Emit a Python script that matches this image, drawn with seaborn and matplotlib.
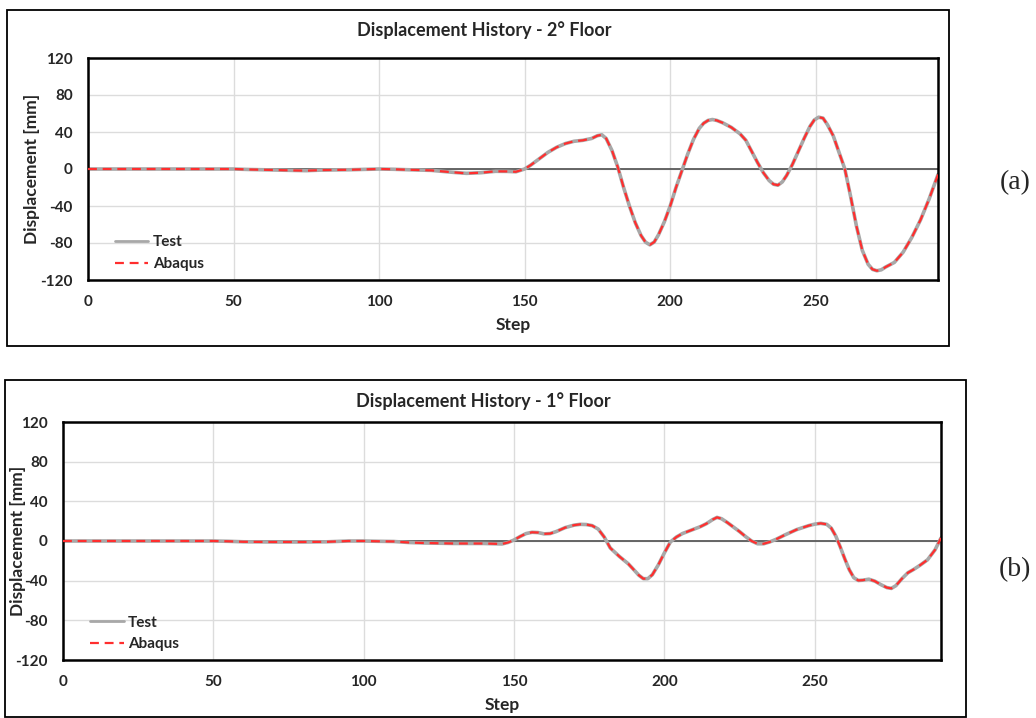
import matplotlib
matplotlib.use("Agg")
import matplotlib.pyplot as plt
from matplotlib.patches import Rectangle
import seaborn as sns
import pandas as pd

# ---- data: 2nd floor ----
steps_2 = [0, 10, 20, 30, 40, 50, 55, 60, 70, 75, 80, 90, 100, 105, 110, 118,
           125, 130, 135, 140, 144, 147, 150, 152, 155, 158, 161, 164, 167, 170,
           173, 175, 176.5, 178, 180, 182, 184, 186, 188, 190, 191.5, 193, 194.5,
           196, 198, 200, 202, 204, 206, 208, 210, 211.5, 213, 214.5, 216, 218,
           221, 224, 226, 228, 230, 232, 234, 235.5, 237, 238.5, 240, 242, 244,
           246, 248, 249.5, 251, 252.5, 254, 256, 258, 260, 262, 264, 266, 268,
           269.5, 271, 272.5, 274, 277, 280, 283, 286, 289, 292]
disp_2 = [0, 0, 0, 0, 0, 0, -0.5, -0.8, -1.5, -1.8, -1.2, -0.8, 0, -0.3, -0.8, -1.5,
          -3.5, -4.7, -4.0, -2.5, -2.6, -3.0, 0, 4, 11, 18, 23.5, 27.5, 30, 31,
          33, 36, 37, 33, 20, 2, -20, -40, -58, -72, -79, -82, -79, -71, -57, -40,
          -20, -2, 16, 32, 44, 49.5, 52.5, 53.5, 52.5, 50, 45, 38, 31, 19, 7, -4,
          -12.5, -16.5, -17.5, -14, -7, 5, 19, 33, 46, 53, 56, 55, 48, 36, 18, 0,
          -30, -62, -88, -103, -108.5, -110, -109, -106, -101, -90, -74, -55, -32, -6]

# ---- data: 1st floor ----
steps_1 = [0, 10, 20, 30, 40, 50, 55, 60, 70, 80, 88, 95, 100, 105, 110, 115, 120,
           130, 140, 146, 148, 150, 152, 154, 156, 158, 160, 162, 164, 167, 170,
           172, 174, 176, 178, 180, 182, 185, 188, 190, 191.5, 193, 194.5, 196,
           198, 200, 202, 204, 206, 209, 212, 214, 216, 217.5, 219, 221, 223,
           225, 227, 229, 231, 233, 235, 237, 240, 244, 248, 250, 252, 254, 255.5,
           257, 258.5, 260, 261.5, 263, 264.5, 266, 268, 270, 272, 274, 275.5,
           277, 279, 281, 283, 285, 287.5, 290, 292]
disp_1 = [0, 0, 0, 0, 0, 0, -0.3, -0.8, -1, -1, -0.8, 0, 0, -0.3, -0.5, -1.5, -2,
          -2.5, -2.5, -3, -1.5, 1, 4.5, 7.5, 8.8, 8.5, 7.2, 7.5, 9.5, 13.5, 16,
          16.8, 16.6, 15.5, 12, 4, -7, -15.5, -23, -29.5, -34.5, -38, -38, -34,
          -24, -12, -1, 4, 7.5, 11, 14.5, 17.5, 21.5, 23.8, 22.5, 18.5, 14, 9.5,
          4.5, 0, -2.8, -2.8, -1, 1.5, 6, 11.5, 15.5, 17, 17.8, 16.8, 13,
          5, -6, -18, -29, -37, -39.8, -39.5, -38.5, -40.5, -44, -47, -47.8,
          -45, -38, -32, -28.5, -24.5, -19, -9, 3]

x_ticks = [0, 50, 100, 150, 200, 250]
y_ticks = [-120, -80, -40, 0, 40, 80, 120]

W, H = 1036, 718
sns.set_style("white")
plt.rcParams["font.family"] = ["Lato", "DejaVu Sans"]
plt.rcParams["axes.unicode_minus"] = False

fig = plt.figure(figsize=(W / 100, H / 100), dpi=100)


def px_rect(x0, y0, x1, y1):
    return [x0 / W, 1 - y1 / H, (x1 - x0) / W, (y1 - y0) / H]


def panel(box, area, title, title_x, title_y, steps, disp, ylab_x, step_y, tag, tag_y):
    # outer chart border
    bx0, by0, bx1, by1 = box
    fig.patches.append(Rectangle((bx0 / W, 1 - by1 / H), (bx1 - bx0) / W, (by1 - by0) / H,
                                 transform=fig.transFigure, fill=False,
                                 edgecolor="black", linewidth=1.3))
    ax = fig.add_axes(px_rect(*area))
    df = pd.DataFrame({"Step": steps, "Displacement": disp})
    ax.axhline(0, color="#5a5a5a", linewidth=1.3, zorder=1)
    sns.lineplot(data=df, x="Step", y="Displacement", ax=ax, color="#a8a8a8",
                 linewidth=2.6, label="Test", sort=False, zorder=2)
    sns.lineplot(data=df, x="Step", y="Displacement", ax=ax, color="#ff2e2e",
                 linewidth=1.6, label="Abaqus", sort=False, zorder=3)
    ax.lines[-1].set_dashes((4, 2.6))
    for ln in ax.lines[-2:]:
        ln.set_solid_joinstyle("round")
        ln.set_dash_joinstyle("round")
    ax.set_xlim(0, 292)
    ax.set_ylim(-120, 120)
    ax.set_xticks(x_ticks)
    ax.set_yticks(y_ticks)
    ax.grid(True, color="#dcdcdc", linewidth=1.0)
    ax.set_axisbelow(True)
    ax.tick_params(length=0, labelsize=11, pad=11)
    for lab in ax.get_xticklabels() + ax.get_yticklabels():
        lab.set_fontweight("bold")
    for s in ax.spines.values():
        s.set_visible(True)
        s.set_color("black")
        s.set_linewidth(1.8)
    ax.set_xlabel("")
    ax.set_ylabel("")
    ax_top = 1 - area[1] / H
    ax_bot = 1 - area[3] / H
    fig.text(ylab_x / W, (ax_top + ax_bot) / 2, "Displacement [mm]", rotation=90,
             ha="center", va="center", fontsize=12.5, fontweight="bold")
    fig.text((area[0] + area[2]) / 2 / W, 1 - step_y / H, "Step",
             ha="center", va="center", fontsize=12.5, fontweight="bold")
    fig.text(title_x / W, 1 - title_y / H, title,
             ha="center", va="center", fontsize=13, fontweight="bold")
    leg = ax.legend(loc="lower left", bbox_to_anchor=(0.015, -0.022), frameon=False,
                    handlelength=2.2, handletextpad=0.3, labelspacing=0.5,
                    prop={"weight": "bold", "size": 11})
    leg.get_lines()[0].set_linewidth(2.0)
    fig.text(1015 / W, 1 - tag_y / H, tag, ha="center", va="center",
             fontsize=20, family=["Liberation Serif", "DejaVu Serif"])
    return ax


panel((7, 10, 949, 346), (88, 58, 938, 280), "Displacement History - 2° Floor", 484, 30,
      steps_2, disp_2, 32, 325, "(a)", 183)
panel((5, 380, 966, 717), (63, 422, 941, 660), "Displacement History - 1° Floor", 483, 401,
      steps_1, disp_1, 18, 705, "(b)", 570)

fig.savefig("out.png", dpi=100)
